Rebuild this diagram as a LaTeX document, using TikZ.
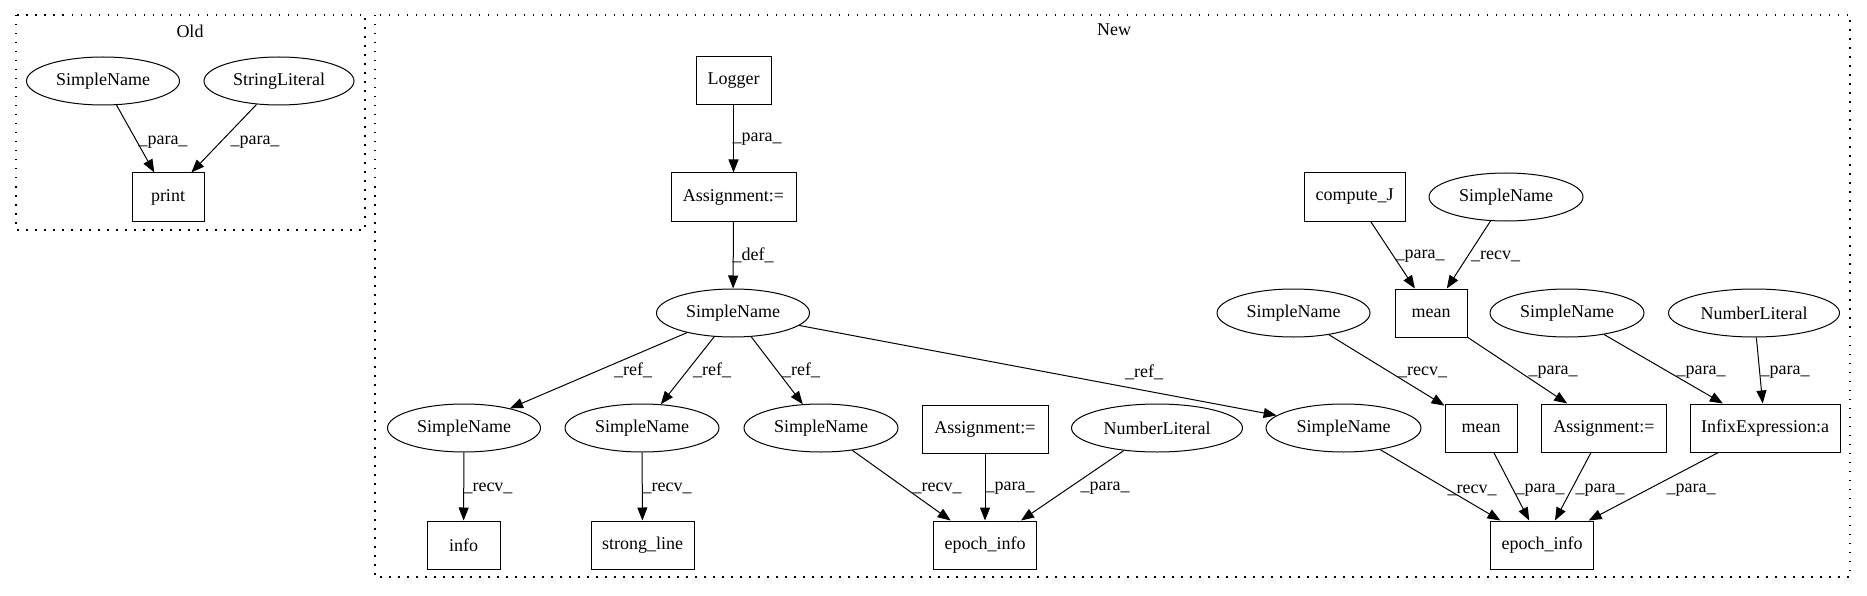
\documentclass[tikz,border=0pt]{standalone}
\usepackage{fontspec}
\setmainfont{Liberation Serif}
\usetikzlibrary{shapes.geometric,arrows.meta}
\tikzset{
  base/.style={draw, line width=1.0pt, minimum height=48pt, inner sep=0pt, font=\fontsize{18}{20}\selectfont},
  box/.style={base, rectangle},
  ell/.style={base, ellipse},
  edge/.style={line width=1.0pt, -{Triangle[length=13pt,width=10pt]}},
  lbl/.style={inner sep=0pt, font=\fontsize{18}{20}\selectfont},
  cluster/.style={line width=1.3pt, dash pattern=on 1.5pt off 7.5pt},
}
\begin{document}
\begin{tikzpicture}[x=1pt,y=-1pt]
\useasboundingbox (0,0) rectangle (1867,596);
% clusters
\draw[cluster] (16,15) rectangle (365,230);
\draw[cluster] (375,15) rectangle (1850,577);
\node[lbl] (oldlbl) at (190,31) {Old};
\node[lbl] (newlbl) at (1114,30) {New};
% Old
\node[ell, minimum width=153pt] (osn) at (103,81) {SimpleName};
\node[ell, minimum width=150pt] (osl) at (279,81) {StringLiteral};
\node[box, minimum width=72pt] (oprint) at (168,197) {print};
% New
\node[box, minimum width=75pt] (logger) at (733.5,81) {Logger};
\node[box, minimum width=125pt] (assign1) at (733.5,197) {Assignment:=};
\node[ell, minimum width=153pt] (sntop) at (733,313) {SimpleName};
\node[ell, minimum width=153pt] (sna) at (464,428) {SimpleName};
\node[ell, minimum width=154pt] (snb) at (642,428) {SimpleName};
\node[ell, minimum width=154pt] (snc) at (821,428) {SimpleName};
\node[box, minimum width=126pt] (assign2) at (985,429) {Assignment:=};
\node[ell, minimum width=171pt] (numlit1) at (1157,428) {NumberLiteral};
\node[ell, minimum width=155pt] (snd) at (1343.5,428) {SimpleName};
\node[box, minimum width=73pt] (info) at (463.5,545) {info};
\node[box, minimum width=103pt] (strong) at (642.5,545) {strong\_line};
\node[box, minimum width=103.5pt] (epoch1) at (985,545) {epoch\_info};
\node[box, minimum width=101pt] (computeJ) at (1354.5,197) {compute\_J};
\node[ell, minimum width=154pt] (sne) at (1506,197) {SimpleName};
\node[box, minimum width=72pt] (mean1) at (1431,313) {mean};
\node[ell, minimum width=153pt] (snf) at (1293.5,313) {SimpleName};
\node[ell, minimum width=154pt] (sng) at (1567,313) {SimpleName};
\node[ell, minimum width=171pt] (numlit2) at (1754,313) {NumberLiteral};
\node[box, minimum width=72pt] (mean2) at (1481,428) {mean};
\node[box, minimum width=125pt] (assign3) at (1604,428) {Assignment:=};
\node[box, minimum width=150pt] (infix) at (1765,428) {InfixExpression:a};
\node[box, minimum width=103pt] (epoch2) at (1542,545) {epoch\_info};
% edges Old
\draw[edge] (osn) -- (oprint) node[lbl, at={(163,142)}] {\_para\_};
\draw[edge] (osl) -- (oprint) node[lbl, at={(255,142)}] {\_para\_};
% edges New
\draw[edge] (logger) -- (assign1) node[lbl, at={(757,139)}] {\_para\_};
\draw[edge] (assign1) -- (sntop) node[lbl, at={(753,255)}] {\_def\_};
\draw[edge] (sntop) -- (sna) node[lbl, at={(633,370)}] {\_ref\_};
\draw[edge] (sntop) -- (snb) node[lbl, at={(712,370)}] {\_ref\_};
\draw[edge] (sntop) -- (snc) node[lbl, at={(801,370)}] {\_ref\_};
\draw[edge] (sntop) -- (snd) node[lbl, at={(1144,372)}] {\_ref\_};
\draw[edge] (sna) -- (info) node[lbl, at={(488,488)}] {\_recv\_};
\draw[edge] (snb) -- (strong) node[lbl, at={(667,488)}] {\_recv\_};
\draw[edge] (snc) -- (epoch1) node[lbl, at={(937,488)}] {\_recv\_};
\draw[edge] (assign2) -- (epoch1) node[lbl, at={(1010,488)}] {\_para\_};
\draw[edge] (numlit1) -- (epoch1) node[lbl, at={(1105,488)}] {\_para\_};
\draw[edge] (computeJ) -- (mean1) node[lbl, at={(1420,256)}] {\_para\_};
\draw[edge] (sne) -- (mean1) node[lbl, at={(1495.5,256)}] {\_recv\_};
\draw[edge] (snf) -- (mean2) node[lbl, at={(1422.5,372)}] {\_recv\_};
\draw[edge] (mean1) -- (assign3) node[lbl, at={(1553,372)}] {\_para\_};
\draw[edge] (sng) -- (infix) node[lbl, at={(1701,372)}] {\_para\_};
\draw[edge] (numlit2) -- (infix) node[lbl, at={(1785,372)}] {\_para\_};
\draw[edge] (snd) -- (epoch2) node[lbl, at={(1472,490)}] {\_recv\_};
\draw[edge] (mean2) -- (epoch2) node[lbl, at={(1540,490)}] {\_para\_};
\draw[edge] (assign3) -- (epoch2) node[lbl, at={(1600,490)}] {\_para\_};
\draw[edge] (infix) -- (epoch2) node[lbl, at={(1691,490)}] {\_para\_};
\end{tikzpicture}
\end{document}
